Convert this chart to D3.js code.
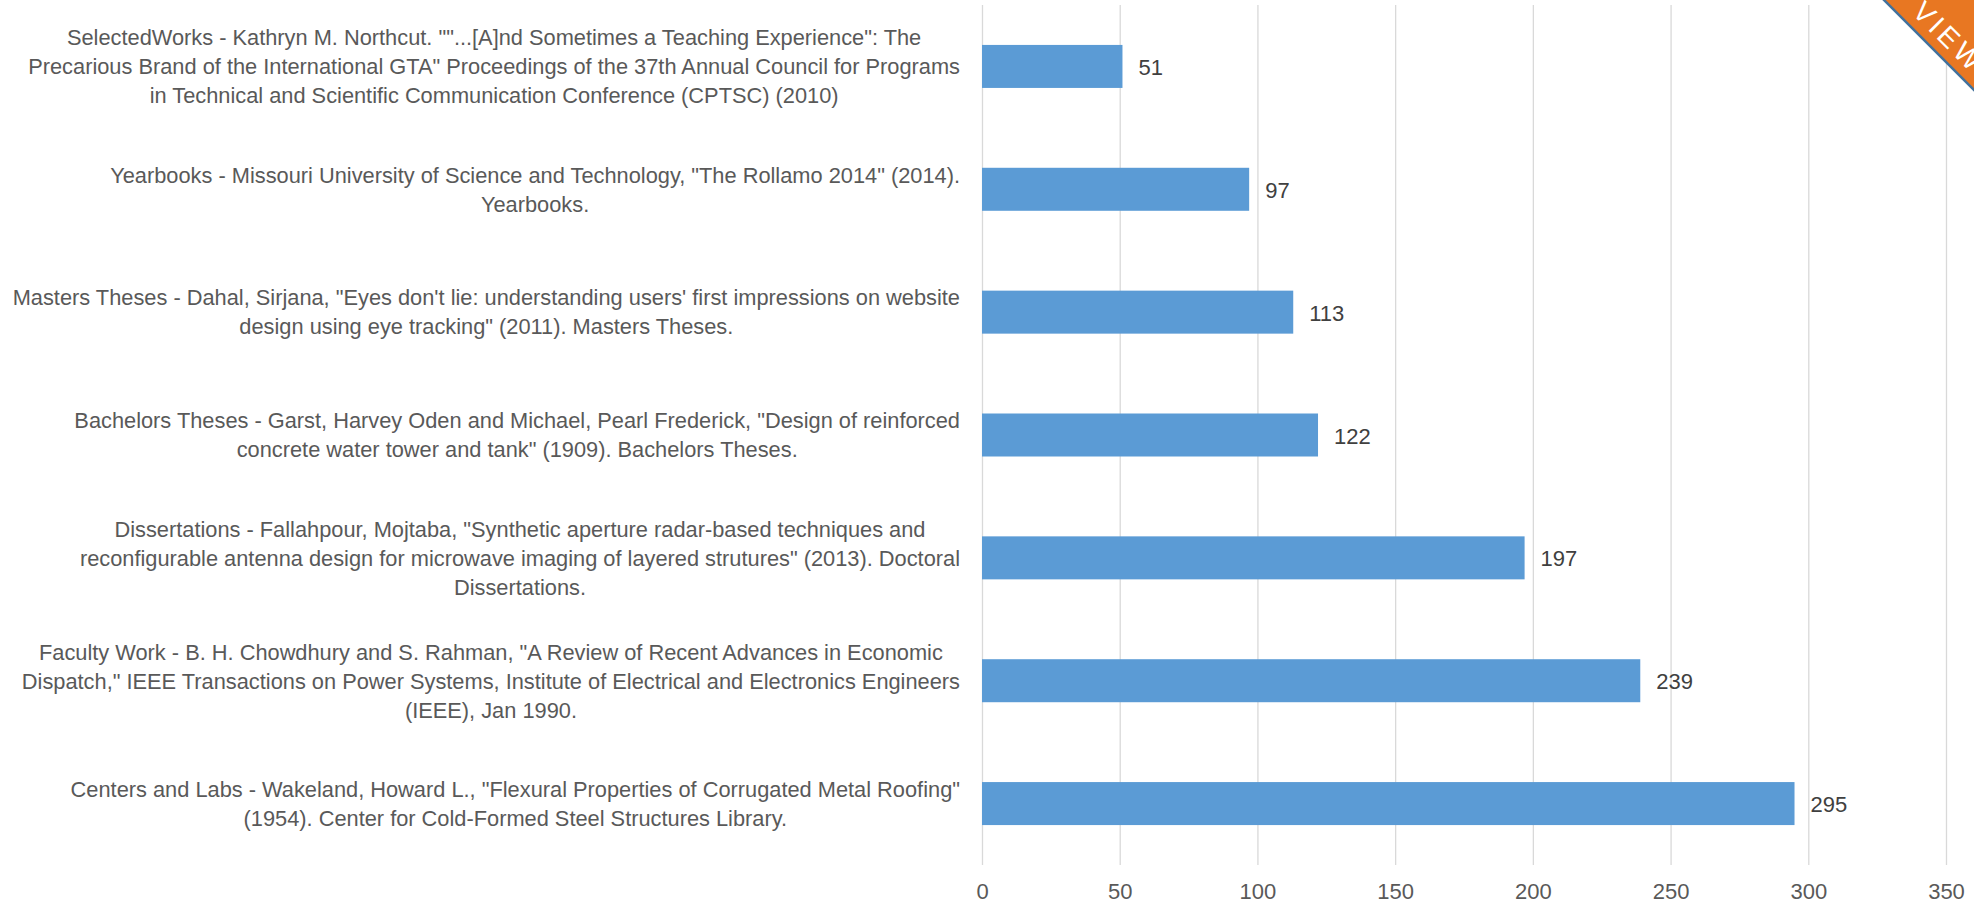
<!DOCTYPE html>
<html lang="en">
	<head>
		<meta charset="utf-8">
		<style type="text/css">
			html, body {
				width: 100%;
				height: 100%;
				padding: 0;
				margin: 0;
				background: #fff;
			}
			svg {
				display: block;
			}
			text {
				font-family: "Liberation Sans", Arial, sans-serif;
			}
			.cat text {
				font-size: 21.8px;
				fill: #595959;
			}
			.value {
				font-size: 22px;
				fill: #404040;
			}
			.x-axis text {
				font-size: 22px;
				fill: #595959;
			}
			.grid line {
				stroke: #d9d9d9;
				stroke-width: 1.3;
			}
		</style>
	</head>
	<body>
	<svg></svg>
	<script src="https://cdn.jsdelivr.net/npm/d3@7"></script>
	<script>
		const width = 1974
		const height = 904

		// category labels, one entry per bar, already split the way the chart wraps them
		const categories = [
			["SelectedWorks - Kathryn M. Northcut. \"\"...[A]nd Sometimes a Teaching Experience\": The",
			 "Precarious Brand of the International GTA\" Proceedings of the 37th Annual Council for Programs",
			 "in Technical and Scientific Communication Conference (CPTSC) (2010)"],
			["Yearbooks - Missouri University of Science and Technology, \"The Rollamo 2014\" (2014).",
			 "Yearbooks."],
			["Masters Theses - Dahal, Sirjana, \"Eyes don't lie: understanding users' first impressions on website",
			 "design using eye tracking\" (2011). Masters Theses."],
			["Bachelors Theses - Garst, Harvey Oden and Michael, Pearl Frederick, \"Design of reinforced",
			 "concrete water tower and tank\" (1909). Bachelors Theses."],
			["Dissertations - Fallahpour, Mojtaba, \"Synthetic aperture radar-based techniques and",
			 "reconfigurable antenna design for microwave imaging of layered strutures\" (2013). Doctoral",
			 "Dissertations."],
			["Faculty Work - B. H. Chowdhury and S. Rahman, \"A Review of Recent Advances in Economic",
			 "Dispatch,\" IEEE Transactions on Power Systems, Institute of Electrical and Electronics Engineers",
			 "(IEEE), Jan 1990."],
			["Centers and Labs - Wakeland, Howard L., \"Flexural Properties of Corrugated Metal Roofing\"",
			 "(1954). Center for Cold-Formed Steel Structures Library."]
		]
		const values = [51, 97, 113, 122, 197, 239, 295]
		const xTicks = [0, 50, 100, 150, 200, 250, 300, 350]
		const ribbonText = "VIEW"

		const plot = { left: 982, right: 1946, top: 5, bottom: 865 }
		const labelRight = 960
		const lineHeight = 29

		const data = categories.map((lines, i) => ({ key: i, lines: lines, value: values[i] }))

		const x = d3.scaleLinear()
			.domain([0, 350])
			.range([plot.left, plot.right])

		const y = d3.scaleBand()
			.domain(data.map(d => d.key))
			.range([plot.top, plot.bottom])
			.paddingInner(0.65)
			.paddingOuter(0.325)

		const svg = d3.select("svg")
			.attr("width", width)
			.attr("height", height)

		// vertical gridlines (the 0 line doubles as the category axis)
		svg.append("g")
			.attr("class", "grid")
			.attr("transform", `translate(0, ${plot.bottom})`)
			.call(d3.axisBottom(x).tickValues(xTicks).tickSize(-(plot.bottom - plot.top)).tickFormat(""))
			.call(g => g.select(".domain").remove())

		// value axis labels
		svg.append("g")
			.attr("class", "x-axis")
			.attr("transform", `translate(0, ${plot.bottom})`)
			.call(d3.axisBottom(x).tickValues(xTicks).tickSize(0).tickPadding(18))
			.call(g => g.select(".domain").remove())
			.call(g => g.selectAll("text").attr("font-family", null).attr("font-size", null).attr("fill", null))

		// bars
		svg.append("g")
			.selectAll("rect")
			.data(data)
			.join("rect")
				.attr("x", x(0))
				.attr("y", d => y(d.key))
				.attr("width", d => x(d.value) - x(0))
				.attr("height", y.bandwidth())
				.attr("fill", "#5b9bd5")

		// data labels
		svg.append("g")
			.selectAll("text")
			.data(data)
			.join("text")
				.attr("class", "value")
				.attr("x", d => x(d.value) + 16)
				.attr("y", d => y(d.key) + y.bandwidth() / 2 + 8.5)
				.text(d => d.value)

		// category labels: centred lines, block pushed against the axis
		const cat = svg.append("g")
			.attr("class", "cat")
			.selectAll("g")
			.data(data)
			.join("g")

		cat.each(function (d) {
			const g = d3.select(this)
			const mid = y(d.key) + y.bandwidth() / 2
			const first = mid - (d.lines.length - 1) * lineHeight / 2 + 7.8
			const t = g.selectAll("text")
				.data(d.lines)
				.join("text")
					.attr("text-anchor", "middle")
					.attr("y", (l, i) => first + i * lineHeight)
					.text(l => l)
			let w = 0
			t.each(function () { w = Math.max(w, this.getComputedTextLength()) })
			t.attr("x", labelRight - w / 2)
		})

		// corner ribbon
		const ribbon = svg.append("g")
		ribbon.append("path")
			.attr("d", `M${width - 90},0 L${width},0 L${width},90 Z`)
			.attr("fill", "#e87722")
		ribbon.append("line")
			.attr("x1", width - 91).attr("y1", -1)
			.attr("x2", width + 1).attr("y2", 91)
			.attr("stroke", "#41719c")
			.attr("stroke-width", 2.5)
		ribbon.append("text")
			.attr("transform", `translate(${width - 63}, 13) rotate(45)`)
			.attr("fill", "#fff")
			.attr("font-size", 28)
			.attr("letter-spacing", 4)
			.text(ribbonText)
	</script>
	</body>
</html>
